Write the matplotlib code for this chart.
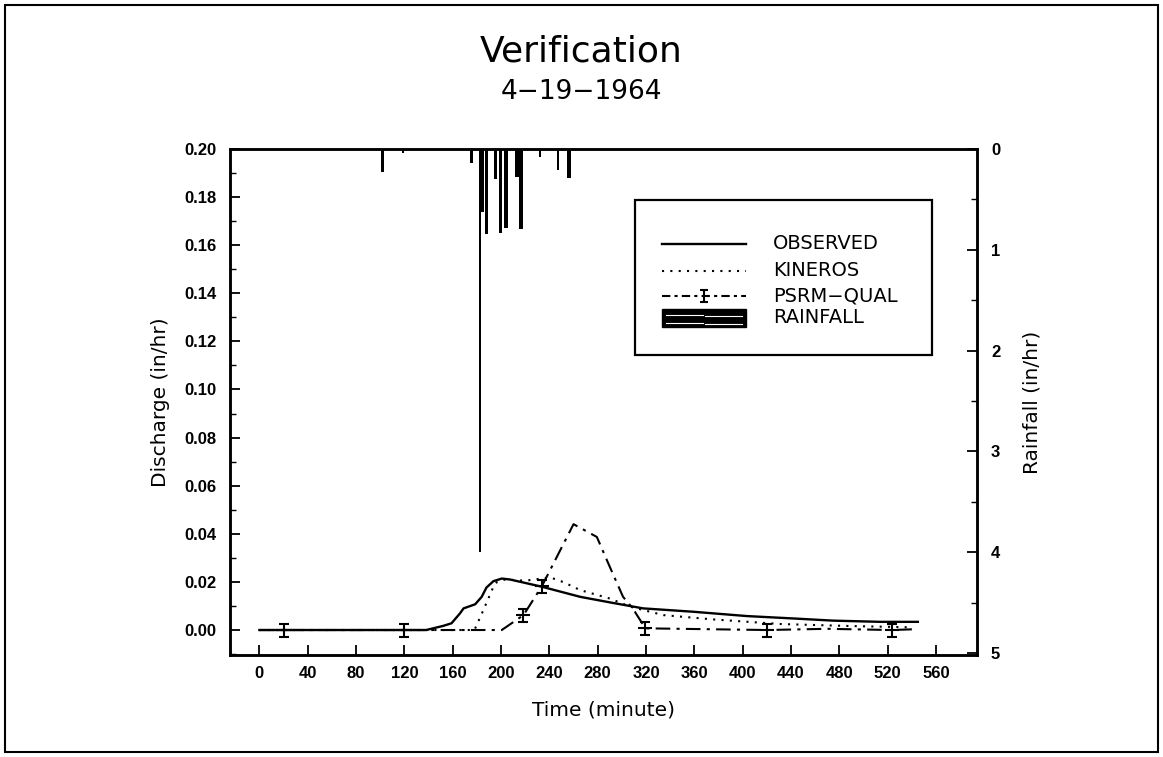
import matplotlib
matplotlib.use("Agg")
import matplotlib.pyplot as plt
from matplotlib.patches import Rectangle
from matplotlib.ticker import MultipleLocator

# Observed discharge (in/hr)
obs_t = [0, 60, 120, 138, 152, 159, 166, 169, 178.6, 184, 188, 193.7, 200.6,
         207.5, 233.8, 265.5, 290, 317.6, 359, 403.5, 442, 475, 514, 545]
obs_q = [0.0, 0.0, 0.0, 0.0, 0.0017, 0.0028, 0.0069, 0.009, 0.0107, 0.0138,
         0.0177, 0.0203, 0.0214, 0.021, 0.018, 0.0138, 0.0115, 0.009, 0.0076,
         0.0058, 0.0048, 0.0039, 0.0034, 0.0034]

# KINEROS simulated discharge (in/hr)
kin_t = [0, 120, 178, 185.4, 193.7, 196.5, 203.4, 220, 240.6, 251.7, 265.5, 290,
         306.8, 334.4, 375.6, 431, 486, 541]
kin_q = [0.0, 0.0, 0.0, 0.0083, 0.018, 0.0199, 0.021, 0.0205, 0.0219, 0.0199,
         0.0166, 0.0131, 0.0097, 0.0062, 0.0044, 0.0025, 0.0017, 0.0011]

# PSRM-QUAL simulated discharge (in/hr)
psrm_t = [0, 20, 120, 200.6, 218.6, 233.8, 260, 279.3, 290, 301, 309, 319.5,
          420, 470, 523.5, 541]
psrm_q = [0.0, 0.0, 0.0, 0.0, 0.0062, 0.0182, 0.044, 0.0387, 0.0263, 0.0138,
          0.009, 0.0007, 0.0, 0.0005, 0.0, 0.0003]
psrm_mark_t = [20, 120, 218.6, 233.8, 319.5, 420, 523.5]
psrm_mark_q = [0.0, 0.0, 0.0062, 0.0182, 0.0007, 0.0, 0.0]

# Rainfall intensity (in/hr), hanging from the top axis
rain_t = [102, 119, 175.5, 182.7, 185, 188, 195.5, 199.5, 204, 213, 216.5, 232,
          247, 256.5]
rain_i = [0.23, 0.04, 0.14, 4.0, 0.63, 0.84, 0.3, 0.83, 0.78, 0.28, 0.79, 0.08,
          0.21, 0.29]
rain_w = [2.5, 1.5, 2.5, 1.5, 2.5, 3.0, 3.0, 3.0, 3.0, 3.0, 3.0, 1.5, 2.0, 3.0]

x_ticks = list(range(0, 561, 40))
y_ticks = [0.00, 0.02, 0.04, 0.06, 0.08, 0.10, 0.12, 0.14, 0.16, 0.18, 0.20]
rain_ticks = [0, 1, 2, 3, 4, 5]

tick_font = dict(family="Liberation Sans", weight="bold", size=12)
label_font = dict(family="DejaVu Sans", size=14.5)

fig = plt.figure(figsize=(11.63, 7.57), dpi=100)
fig.patches.append(Rectangle((0.004, 0.006), 0.992, 0.988, transform=fig.transFigure,
                             fill=False, edgecolor="black", linewidth=1.5))

ax = fig.add_axes([0.1978, 0.1347, 0.6423, 0.6685])
ax.set_xlim(-24.3, 594)
ax.set_ylim(-0.0104, 0.2)

ax.plot(obs_t, obs_q, color="black", linewidth=1.7)
ax.plot(kin_t, kin_q, color="black", linewidth=1.5, linestyle=(0, (1, 3)))
ax.plot(psrm_t, psrm_q, color="black", linewidth=1.5, linestyle=(0, (7, 3, 1.5, 3)))
ax.errorbar(psrm_mark_t, psrm_mark_q, yerr=0.0027, fmt="none", ecolor="black",
            elinewidth=1.5, capsize=3.5, capthick=1.5)
ax.plot(psrm_mark_t, psrm_mark_q, linestyle="none", marker="_", markersize=10,
        markeredgewidth=1.5, color="black")

ax.set_xticks(x_ticks)
ax.set_yticks(y_ticks)
ax.set_xticklabels([str(v) for v in x_ticks], **tick_font)
ax.set_yticklabels([f"{v:.2f}" for v in y_ticks], **tick_font)
ax.yaxis.set_minor_locator(MultipleLocator(0.01))
ax.tick_params(axis="x", which="major", direction="in", length=7, width=1.3, pad=8)
ax.tick_params(axis="y", which="major", direction="in", length=7, width=1.3, pad=10)
ax.tick_params(axis="y", which="minor", direction="in", length=4, width=1.0)
for s in ax.spines.values():
    s.set_linewidth(1.8)

ax.set_xlabel("Time (minute)", labelpad=14, **label_font)
ax.set_ylabel("Discharge (in/hr)", labelpad=10, **label_font)

ax2 = ax.twinx()
ax2.set_ylim(5.02, 0)
ax2.bar(rain_t, rain_i, width=rain_w, bottom=0, color="black", align="center")
ax2.set_yticks(rain_ticks)
ax2.set_yticklabels([str(v) for v in rain_ticks], **tick_font)
ax2.yaxis.set_minor_locator(MultipleLocator(0.5))
ax2.tick_params(axis="y", which="major", direction="in", length=7, width=1.3, pad=10)
ax2.tick_params(axis="y", which="minor", direction="in", length=4, width=1.0)
ax2.set_ylabel("Rainfall (in/hr)", labelpad=16, **label_font)
for s in ax2.spines.values():
    s.set_linewidth(1.8)

# Legend drawn in axes coordinates
T = ax2.transAxes
ax2.add_patch(Rectangle((0.542, 0.593), 0.398, 0.306, transform=T, fill=False,
                        edgecolor="black", linewidth=1.6, zorder=5))
hx0, hx1, tx = 0.578, 0.691, 0.727
rows = [0.8123, 0.7589, 0.7095, 0.666]
names = ["OBSERVED", "KINEROS", "PSRM\u2212QUAL", "RAINFALL"]
ax2.plot([hx0, hx1], [rows[0]] * 2, transform=T, color="black", linewidth=1.7)
ax2.plot([hx0, hx1], [rows[1]] * 2, transform=T, color="black", linewidth=1.5,
         linestyle=(0, (1, 3)))
ax2.plot([hx0, hx1], [rows[2]] * 2, transform=T, color="black", linewidth=1.5,
         linestyle=(0, (4, 2, 1.5, 2)))
hm = (hx0 + hx1) / 2
ax2.errorbar([hm], [rows[2]], yerr=0.011, transform=T, fmt="none", ecolor="black",
             elinewidth=1.5, capsize=3.0, capthick=1.5)
ax2.add_patch(Rectangle((hx0, rows[3] - 0.017), hx1 - hx0, 0.034, transform=T,
                        facecolor="black", edgecolor="black", zorder=5))
for yy in (rows[3] + 0.006, rows[3] - 0.009):
    ax2.plot([hx0 + 0.006, hx0 + 0.055], [yy, yy], transform=T, color="white",
             linewidth=0.8, zorder=6)
    ax2.plot([hx0 + 0.058, hx1 - 0.006], [yy - 0.003, yy - 0.003], transform=T,
             color="white", linewidth=0.8, zorder=6)
for yy, name in zip(rows, names):
    ax2.text(tx, yy, name, transform=T, va="center", ha="left",
             family="Liberation Sans Narrow", size=14)

fig.text(0.5, 0.932, "Verification", ha="center", va="center",
         family="DejaVu Sans", size=26)
fig.text(0.5, 0.879, "4\u221219\u22121964", ha="center", va="center",
         family="DejaVu Sans", size=19)

fig.savefig("out.png", dpi=100, facecolor="white")
